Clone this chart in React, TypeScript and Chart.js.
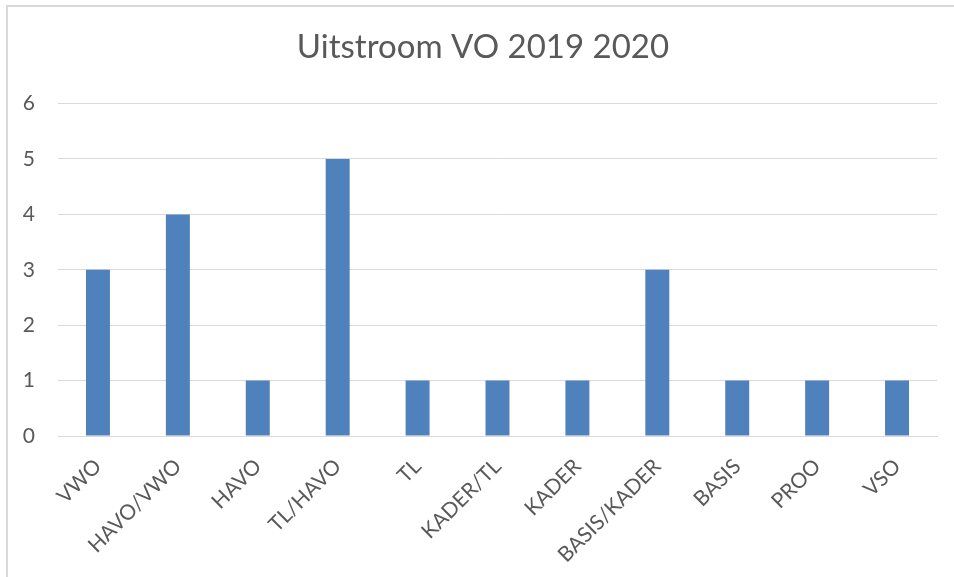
import React, { useEffect, useRef } from "react";
import { Chart, registerables } from "chart.js";

Chart.register(...registerables);

const categories = ["VWO", "HAVO/VWO", "HAVO", "TL/HAVO", "TL", "KADER/TL", "KADER", "BASIS/KADER", "BASIS", "PROO", "VSO"];
const values = [3, 4, 1, 5, 1, 1, 1, 3, 1, 1, 1];
const yTicks = [0, 1, 2, 3, 4, 5, 6];
const title = "Uitstroom VO 2019 2020";

const FONT = "Lato, 'Open Sans', sans-serif";

const centeredTitle = {
  id: "centeredTitle",
  afterDraw(chart: any) {
    const ctx = chart.ctx;
    const t = chart.titleBlock;
    if (!t) return;
    ctx.save();
    ctx.font = `normal 33px ${FONT}`;
    ctx.fillStyle = "#595959";
    ctx.textAlign = "center";
    ctx.textBaseline = "middle";
    const cy = t.top + 21 + (33 * 1.2) / 2;
    ctx.fillText(title, chart.width / 2 - 2, cy);
    ctx.restore();
  },
};

export default function App() {
  const ref = useRef<HTMLCanvasElement | null>(null);
  useEffect(() => {
    if (!ref.current) return;
    const chart = new Chart(ref.current, {
      type: "bar",
      data: {
        labels: categories,
        datasets: [
          {
            data: values,
            backgroundColor: "#4F81BD",
            barPercentage: 0.3,
            categoryPercentage: 1,
          },
        ],
      },
      plugins: [centeredTitle],
      options: {
        animation: false,
        responsive: false,
        layout: { padding: { left: 0, right: 25, top: 0, bottom: 0 } },
        plugins: {
          legend: { display: false },
          tooltip: { enabled: false },
          title: {
            display: true,
            text: title,
            color: "rgba(0,0,0,0)",
            font: { family: FONT, size: 33, weight: "normal" },
            padding: { top: 21, bottom: 36 },
          },
        },
        scales: {
          x: {
            grid: { display: false, drawTicks: false },
            border: { display: true, color: "#d9d9d9", width: 1 },
            ticks: {
              color: "#595959",
              font: { family: FONT, size: 21 },
              minRotation: 45,
              maxRotation: 45,
              autoSkip: false,
              padding: 18,
            },
            afterFit: (s: any) => {
              s.height = 141;
            },
          },
          y: {
            min: 0,
            max: 6,
            afterBuildTicks: (s: any) => {
              s.ticks = yTicks.map((v) => ({ value: v }));
            },
            grid: { color: "#d9d9d9", drawTicks: false, lineWidth: 1 },
            border: { display: false },
            ticks: {
              color: "#595959",
              font: { family: FONT, size: 21 },
              padding: 23,
            },
            afterFit: (s: any) => {
              s.width = 50;
            },
          },
        },
      },
    });
    return () => chart.destroy();
  }, []);
  return (
    <div style={{ position: "absolute", left: 0, top: 0, width: 954, height: 577, overflow: "hidden", background: "#fff" }}>
      <div
        style={{
          position: "absolute",
          left: 6,
          top: 5,
          width: 960,
          height: 600,
          borderLeft: "2px solid #d9d9d9",
          borderTop: "2px solid #d9d9d9",
        }}
      >
        <canvas ref={ref} width={954} height={570} style={{ display: "block", width: 954, height: 570 }} />
      </div>
    </div>
  );
}
